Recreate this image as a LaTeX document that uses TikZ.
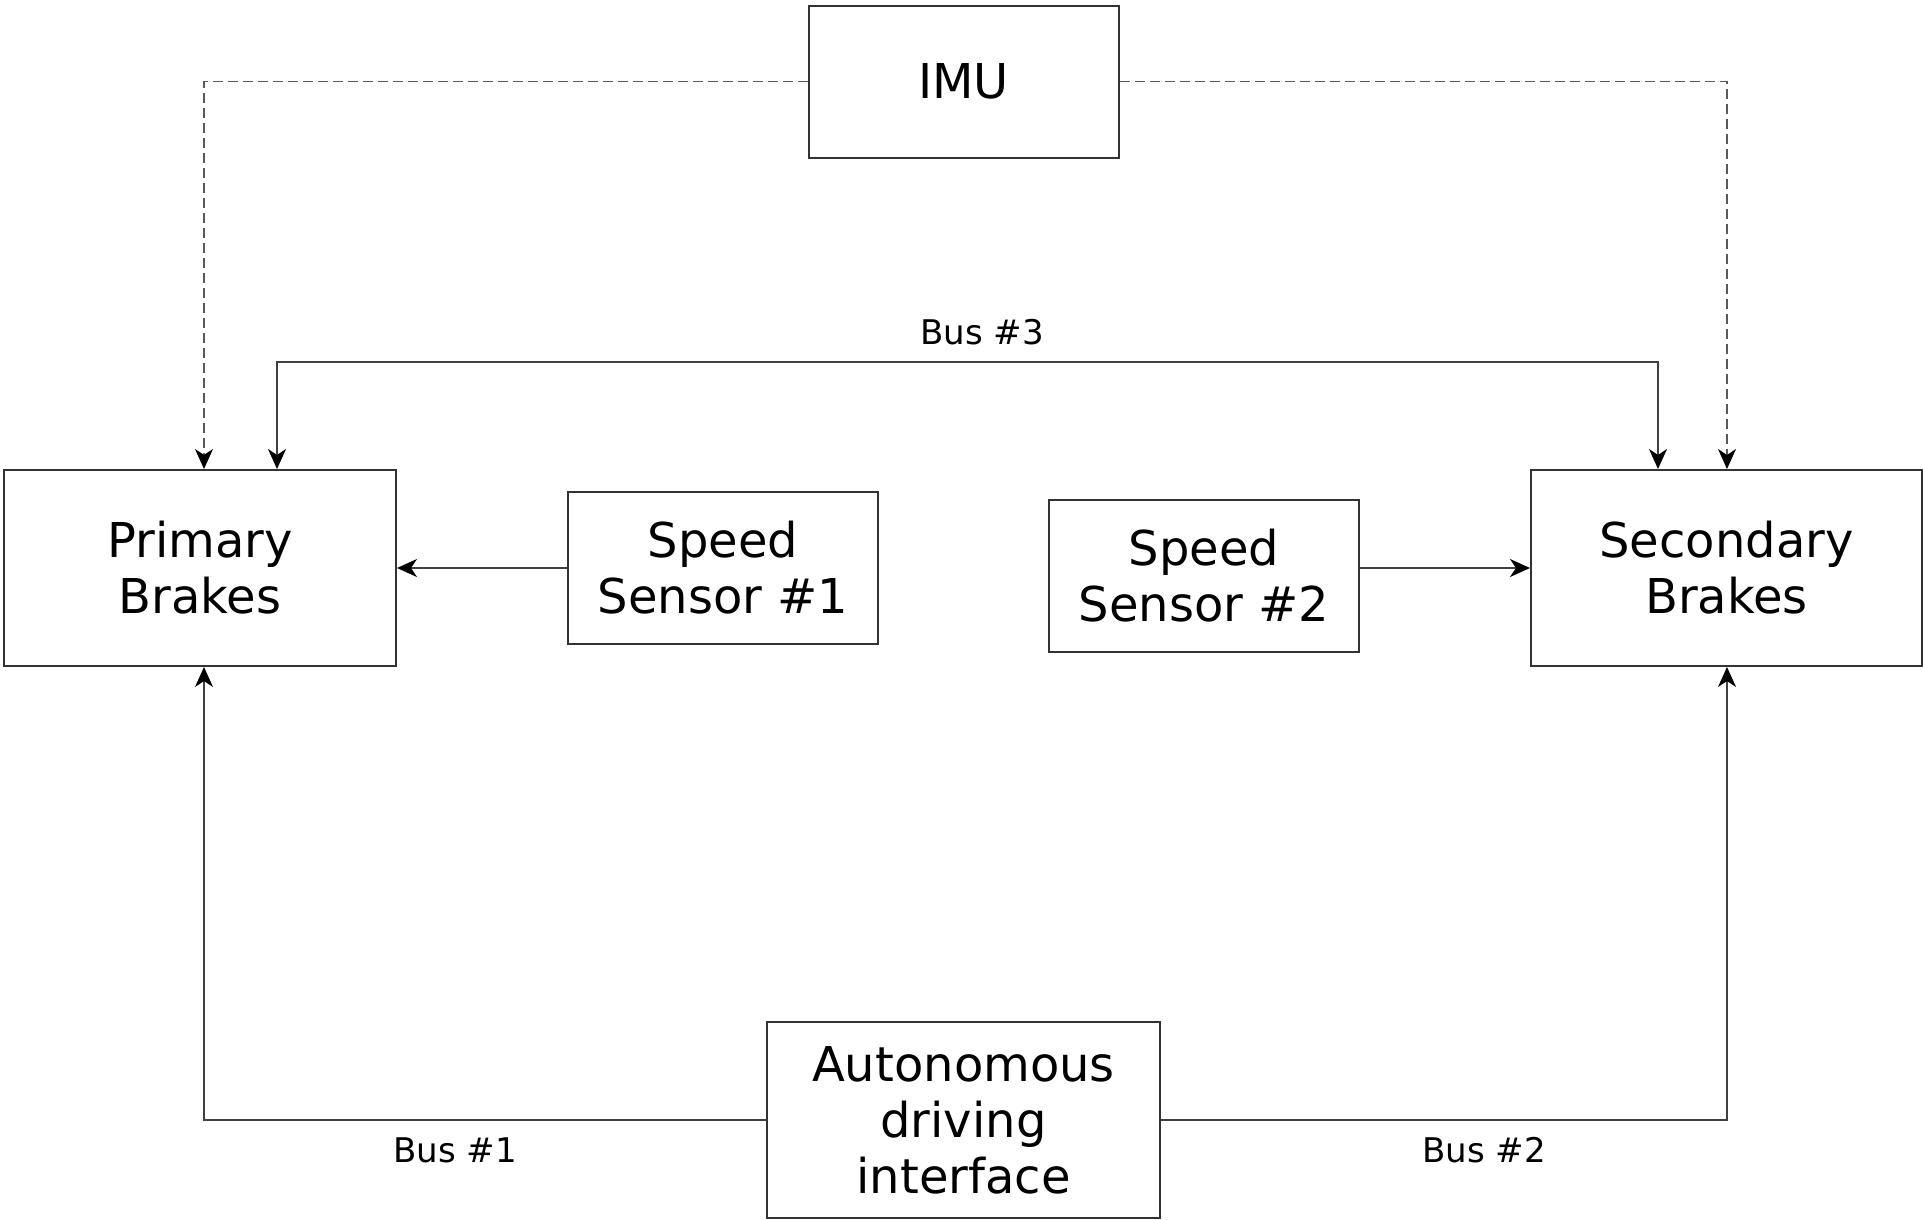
\documentclass[tikz,border=0pt]{standalone}
\usepackage{fontspec}
\setmainfont{DejaVu Sans}
\usetikzlibrary{arrows.meta}
\begin{document}
\begin{tikzpicture}[x=1pt,y=-1pt,
  box/.style={draw=black!80, line width=2pt, fill=white, align=center,
    font=\fontsize{48}{56}\selectfont, inner sep=0pt},
  tip/.tip={Stealth[length=20pt,width=18pt,inset=6pt,black]},
  link/.style={draw=black!75, line width=1.8pt, -tip},
  dlink/.style={link, draw=black!65, dash pattern=on 10pt off 5pt},
  buslabel/.style={font=\fontsize{34}{40}\selectfont, inner sep=0pt}]
  \useasboundingbox (0,0) rectangle (1923,1219);

  % blocks
  \node[box, minimum width=310pt, minimum height=152pt] (imu) at (963.5,81.5) {IMU};
  \node[box, minimum width=392pt, minimum height=196pt] (prim) at (200,568) {Primary\\Brakes};
  \node[box, minimum width=310pt, minimum height=152pt] (ss1) at (723,568) {Speed\\Sensor \#1};
  \node[box, minimum width=310pt, minimum height=152pt] (ss2) at (1204,576) {Speed\\Sensor \#2};
  \node[box, minimum width=391pt, minimum height=196pt] (sec) at (1726.5,568) {Secondary\\Brakes};
  \node[box, minimum width=393pt, minimum height=196pt] (adi) at (963.5,1120) {Autonomous\\driving\\interface};

  % columns used by the vertical runs
  \coordinate (d1) at (204,0);
  \coordinate (d2) at (1727,0);

  % IMU feeds (dashed)
  \draw[dlink] (imu.west) -- (imu.west -| d1) -- (d1 |- prim.north);
  \draw[dlink] (imu.east) -- (imu.east -| d2) -- (d2 |- sec.north);

  % Bus #3 between the brake units
  \coordinate (b3a) at (277,362);
  \coordinate (b3b) at (1658,362);
  \draw[link, tip-tip]
    (b3a |- prim.north) -- (b3a) -- (b3b) -- (b3b |- sec.north);
  \node[buslabel] (l3) at (982,332) {Bus \#3};

  % speed sensors
  \draw[link] (ss1.west) -- (prim.east);
  \draw[link] (ss2.east |- sec.west) -- (sec.west);

  % buses from the driving interface
  \draw[link] (adi.west) -- (adi.west -| d1) -- (d1 |- prim.south);
  \draw[link] (adi.east) -- (adi.east -| d2) -- (d2 |- sec.south);
  \node[buslabel] (l1) at (455,1150) {Bus \#1};
  \node[buslabel] (l2) at (1484,1150) {Bus \#2};
\end{tikzpicture}
\end{document}
